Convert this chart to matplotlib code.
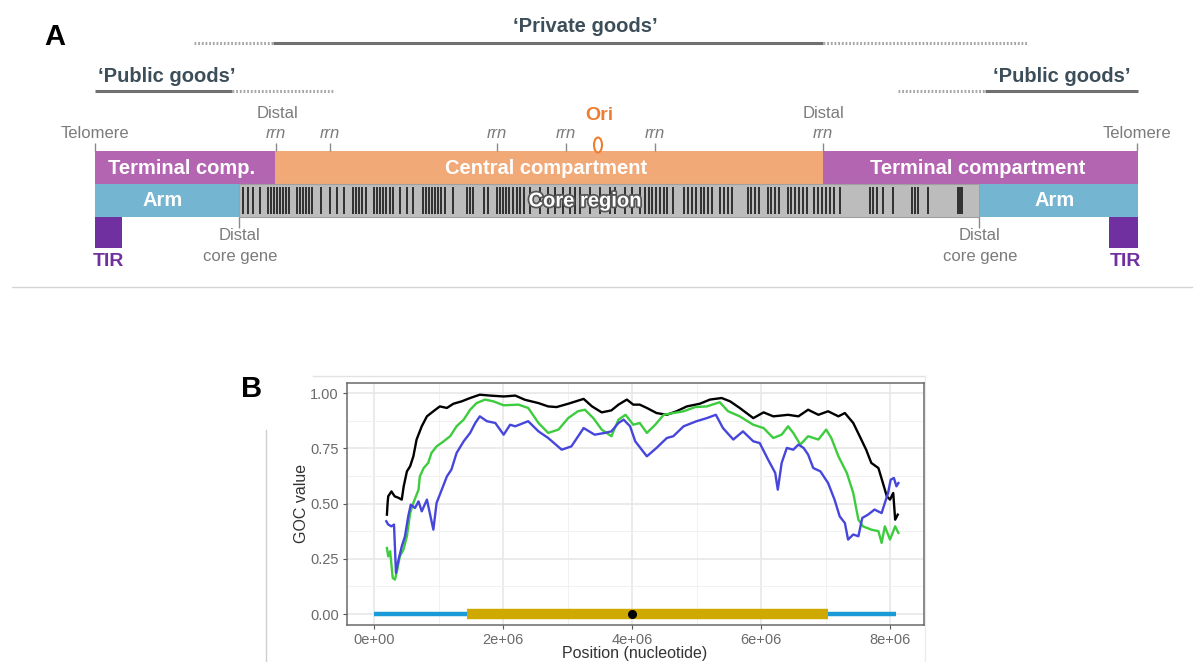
import matplotlib.pyplot as plt
from matplotlib.patches import Rectangle, Ellipse
import matplotlib.patheffects as pe
import numpy as np

plt.rcParams['font.family'] = ['Liberation Sans', 'DejaVu Sans']

# ---- panel A: schematic (diagram units = pixels along the chromosome drawing)
compartments = ['Terminal comp.', 'Central compartment', 'Terminal compartment']
comp_start = [95, 275, 823]
comp_end = [275, 823, 1138]
comp_colors = ['#b365b2', '#f2a978', '#b365b2']

regions = ['Arm', 'Core region', 'Arm']
region_start = [95, 239, 979]
region_end = [239, 979, 1138]
region_colors = ['#74b5d1', '#bcbcbc', '#74b5d1']

tir_start = [95, 1109]
tir_end = [122, 1138]

rrn_pos = [276, 330, 497, 566, 655, 823]
ori_pos = 598
telomere_pos = [95, 1137]
distal_core_pos = [239, 979]

core_genes = [243, 248, 253, 260, 268, 271, 274, 277, 280, 283, 286, 289, 297, 300,
              303, 306, 309, 312, 321, 330, 337, 344, 353, 356, 359, 362, 366, 374,
              377, 380, 383, 386, 390, 393, 400, 407, 413, 423, 426, 429, 432, 435,
              438, 441, 445, 453, 467, 470, 473, 484, 488, 497, 500, 503, 506, 509,
              513, 517, 520, 524, 530, 540, 548, 555, 563, 570, 575, 580, 590, 600,
              610, 615, 625, 632, 640, 645, 649, 652, 656, 660, 664, 667, 673, 684,
              688, 692, 696, 701, 704, 708, 712, 720, 724, 728, 732, 748, 751, 755,
              759, 768, 771, 775, 779, 788, 791, 795, 799, 803, 807, 814, 818, 822,
              826, 830, 834, 840, 870, 873, 877, 883, 893, 912, 915, 918, 928, 958,
              960, 962]

# goods spans: (dotted start, solid start, solid end, dotted end)
private_span = [194, 273, 823, 1027]
public_left_span = [95, 95, 232, 333]
public_right_span = [898, 985, 1138, 1138]

# ---- panel B: GOC values (position in Mb)
black_pos = [0.20, 0.21, 0.22, 0.27, 0.32, 0.38, 0.43, 0.46, 0.51, 0.56, 0.61, 0.66, 0.74,
             0.82, 0.92, 1.02, 1.13, 1.23, 1.36, 1.49, 1.64, 1.80, 2.01, 2.19, 2.34, 2.55,
             2.70, 2.83, 3.01, 3.25, 3.38, 3.53, 3.68, 3.79, 3.92, 4.02, 4.12, 4.23, 4.38,
             4.54, 4.69, 4.85, 5.05, 5.21, 5.39, 5.52, 5.67, 5.88, 6.04, 6.19, 6.29, 6.42,
             6.58, 6.73, 6.89, 7.04, 7.20, 7.30, 7.43, 7.53, 7.63, 7.71, 7.82, 7.89, 7.95,
             8.00, 8.05, 8.08, 8.12]
black_goc = [0.45, 0.50, 0.533, 0.555, 0.533, 0.526, 0.518, 0.578, 0.646, 0.669, 0.714, 0.790,
             0.85, 0.895, 0.918, 0.94, 0.933, 0.952, 0.963, 0.978, 0.993, 0.989, 0.985, 0.989,
             0.97, 0.955, 0.94, 0.937, 0.952, 0.974, 0.94, 0.913, 0.922, 0.948, 0.971, 0.948,
             0.948, 0.933, 0.91, 0.902, 0.918, 0.94, 0.952, 0.971, 0.978, 0.963, 0.933, 0.887,
             0.913, 0.895, 0.898, 0.902, 0.895, 0.925, 0.902, 0.918, 0.895, 0.910, 0.865,
             0.805, 0.744, 0.684, 0.661, 0.593, 0.533, 0.518, 0.548, 0.427, 0.45]

green_pos = [0.20, 0.22, 0.25, 0.29, 0.325, 0.36, 0.40, 0.455, 0.51, 0.56, 0.61, 0.69, 0.71,
             0.77, 0.84, 0.89, 0.97, 1.08, 1.18, 1.28, 1.39, 1.49, 1.59, 1.72, 1.85, 2.01,
             2.24, 2.39, 2.55, 2.70, 2.86, 3.01, 3.16, 3.27, 3.40, 3.53, 3.68, 3.79, 3.90,
             4.02, 4.12, 4.23, 4.36, 4.49, 4.64, 4.80, 4.98, 5.16, 5.36, 5.49, 5.67, 5.88,
             6.04, 6.19, 6.32, 6.42, 6.50, 6.61, 6.73, 6.89, 7.01, 7.09, 7.20, 7.33, 7.43,
             7.51, 7.58, 7.71, 7.82, 7.87, 7.92, 8.00, 8.08, 8.13]
green_goc = [0.299, 0.261, 0.284, 0.163, 0.156, 0.201, 0.261, 0.291, 0.352, 0.457, 0.503,
             0.563, 0.623, 0.661, 0.684, 0.729, 0.759, 0.782, 0.805, 0.85, 0.88, 0.925, 0.955,
             0.971, 0.963, 0.945, 0.948, 0.933, 0.865, 0.82, 0.835, 0.887, 0.918, 0.925,
             0.887, 0.835, 0.805, 0.88, 0.902, 0.857, 0.865, 0.82, 0.857, 0.902, 0.91, 0.918,
             0.937, 0.94, 0.959, 0.918, 0.895, 0.857, 0.842, 0.797, 0.812, 0.85, 0.82, 0.767,
             0.805, 0.790, 0.835, 0.797, 0.714, 0.639, 0.548, 0.427, 0.397, 0.382, 0.375,
             0.322, 0.397, 0.337, 0.397, 0.367]

blue_pos = [0.19, 0.22, 0.27, 0.31, 0.34, 0.38, 0.43, 0.48, 0.53, 0.57, 0.635, 0.69, 0.74,
            0.82, 0.87, 0.92, 0.97, 1.05, 1.13, 1.20, 1.28, 1.39, 1.49, 1.57, 1.64, 1.75,
            1.88, 2.01, 2.11, 2.19, 2.39, 2.55, 2.70, 2.91, 3.06, 3.25, 3.42, 3.58, 3.68,
            3.79, 3.87, 3.97, 4.05, 4.23, 4.38, 4.54, 4.64, 4.80, 5.00, 5.16, 5.30, 5.41,
            5.57, 5.72, 5.88, 5.98, 6.11, 6.22, 6.26, 6.32, 6.40, 6.50, 6.58, 6.66, 6.73,
            6.81, 6.92, 7.04, 7.14, 7.22, 7.30, 7.35, 7.43, 7.51, 7.57, 7.66, 7.76, 7.87,
            7.92, 7.97, 8.01, 8.06, 8.10, 8.13]
blue_goc = [0.42, 0.405, 0.397, 0.405, 0.186, 0.246, 0.306, 0.352, 0.442, 0.495, 0.48, 0.51,
            0.465, 0.518, 0.45, 0.382, 0.503, 0.563, 0.623, 0.654, 0.729, 0.782, 0.82, 0.865,
            0.895, 0.873, 0.865, 0.812, 0.857, 0.85, 0.873, 0.827, 0.797, 0.744, 0.759, 0.842,
            0.812, 0.82, 0.827, 0.865, 0.88, 0.85, 0.782, 0.714, 0.752, 0.797, 0.805, 0.85,
            0.873, 0.887, 0.902, 0.842, 0.790, 0.827, 0.782, 0.774, 0.699, 0.639, 0.563,
            0.684, 0.752, 0.744, 0.767, 0.752, 0.722, 0.661, 0.646, 0.593, 0.518, 0.442,
            0.412, 0.337, 0.36, 0.352, 0.435, 0.45, 0.473, 0.457, 0.503, 0.548, 0.608,
            0.616, 0.578, 0.593]

# chromosome track under the curves (Mb)
track_arm_left = [0.0, 1.44]
track_central = [1.44, 7.04]
track_arm_right = [7.04, 8.10]
ori_mb = 4.0

x_ticks = [0, 2e6, 4e6, 6e6, 8e6]
x_labels = ['0e+00', '2e+06', '4e+06', '6e+06', '8e+06']
y_ticks = [0.0, 0.25, 0.5, 0.75, 1.0]
y_labels = ['0.00', '0.25', '0.50', '0.75', '1.00']

W, H = 1204, 662
fig = plt.figure(figsize=(W / 100, H / 100), dpi=100)

# full-figure axes in pixel units for panel A and decorations
ax_a = fig.add_axes([0, 0, 1, 1])
ax_a.set_xlim(0, W)
ax_a.set_ylim(H, 0)
ax_a.axis('off')

gray_txt = '#7b7b7b'
dark_goods = '#3c4e59'

# goods lines
def goods_line(span, y):
    ds, ss, se, de = span
    if ss > ds:
        ax_a.plot([ds, ss], [y, y], color='#a8a8a8', lw=2.2, ls=(0, (0.6, 0.6)))
    ax_a.plot([ss, se], [y, y], color='#707070', lw=2.2, solid_capstyle='butt')
    if de > se:
        ax_a.plot([se, de], [y, y], color='#a8a8a8', lw=2.2, ls=(0, (0.6, 0.6)))

goods_line(private_span, 43)
goods_line(public_left_span, 91)
goods_line(public_right_span, 91)
ax_a.text(585, 26, '\u2018Private goods\u2019', fontsize=14.5, fontweight='bold',
          color=dark_goods, ha='center', va='center')
ax_a.text(167, 76, '\u2018Public goods\u2019', fontsize=14.5, fontweight='bold',
          color=dark_goods, ha='center', va='center')
ax_a.text(1062, 76, '\u2018Public goods\u2019', fontsize=14.5, fontweight='bold',
          color=dark_goods, ha='center', va='center')

# compartment bars
for name, s, e, c in zip(compartments, comp_start, comp_end, comp_colors):
    ax_a.add_patch(Rectangle((s, 151), e - s, 33, facecolor=c, edgecolor='none'))
    ax_a.text((s + e) / 2 - 3, 168, name, fontsize=14.5, fontweight='bold',
              color='white', ha='center', va='center')

for name, s, e, c in zip(regions, region_start, region_end, region_colors):
    ax_a.add_patch(Rectangle((s, 184), e - s, 33, facecolor=c, edgecolor='none'))

ax_a.vlines(core_genes, 187, 214, color='black', lw=1.3, alpha=0.8)
ax_a.add_patch(Rectangle((region_start[1], 184), region_end[1] - region_start[1], 33,
                         facecolor='none', edgecolor='#a0a0a0', lw=0.8))
for name, s, e in zip(regions, region_start, region_end):
    t = ax_a.text((s + e) / 2 - (24 if name == 'Core region' else 4), 201, name,
                  fontsize=14.5, fontweight='bold', color='white', ha='center',
                  va='center', zorder=5)
    if name == 'Core region':
        t.set_path_effects([pe.withStroke(linewidth=2.5, foreground='#555555')])

for s, e in zip(tir_start, tir_end):
    ax_a.add_patch(Rectangle((s, 217), e - s, 31, facecolor='#7030a0', edgecolor='none'))
ax_a.text(108, 261, 'TIR', fontsize=14, fontweight='bold', color='#7030a0',
          ha='center', va='center')
ax_a.text(1125, 261, 'TIR', fontsize=14, fontweight='bold', color='#7030a0',
          ha='center', va='center')

# rrn marks
ax_a.vlines(rrn_pos, 143, 151, color='#8a8a8a', lw=1)
for x in rrn_pos:
    ax_a.text(x, 134, 'rrn', fontsize=12, style='italic', color=gray_txt,
              ha='center', va='center')
for x in [rrn_pos[0], rrn_pos[-1]]:
    ax_a.text(x + 1, 113, 'Distal', fontsize=12, color=gray_txt, ha='center', va='center')

# telomeres
ax_a.vlines(telomere_pos, 143, 151, color='#8a8a8a', lw=1)
for x in telomere_pos:
    ax_a.text(x, 134, 'Telomere', fontsize=12, color=gray_txt, ha='center', va='center')

# origin
ax_a.add_patch(Ellipse((ori_pos, 145), 8, 15, facecolor='white', edgecolor='#ee7d31', lw=1.5))
ax_a.text(ori_pos + 1, 115, 'Ori', fontsize=14, fontweight='bold', color='#ee7d31',
          ha='center', va='center')

# distal core genes
ax_a.vlines(distal_core_pos, 217, 228, color='#8a8a8a', lw=1)
for x in distal_core_pos:
    ax_a.text(x + 1, 235, 'Distal', fontsize=12, color=gray_txt, ha='center', va='center')
    ax_a.text(x + 1, 257, 'core gene', fontsize=12, color=gray_txt, ha='center', va='center')

# panel letters and frame lines
ax_a.text(55, 37, 'A', fontsize=21, fontweight='bold', color='black', ha='center', va='center')
ax_a.text(252, 389, 'B', fontsize=21, fontweight='bold', color='black', ha='center', va='center')
ax_a.plot([12, 1192], [287, 287], color='#d4d4d4', lw=1)
ax_a.plot([313, 925], [376, 376], color='#e2e2e2', lw=1)
ax_a.plot([925, 925], [376, 662], color='#ececec', lw=1)
ax_a.plot([266, 266], [430, 662], color='#cfcfcf', lw=1)

# ---- panel B
left, right, top, bottom = 347, 924, 383, 625
ax = fig.add_axes([left / W, 1 - bottom / H, (right - left) / W, (bottom - top) / H])
ax.set_facecolor('white')

mb = 1e6
ax.plot(np.array(black_pos) * mb, black_goc, color='black', lw=1.7)
ax.plot(np.array(green_pos) * mb, green_goc, color='#3dcc3d', lw=1.7)
ax.plot(np.array(blue_pos) * mb, blue_goc, color='#4646dc', lw=1.7)

ax.plot(np.array(track_arm_left) * mb, [0, 0], color='#1a9ad6', lw=3.2, solid_capstyle='butt')
ax.plot(np.array(track_arm_right) * mb, [0, 0], color='#1a9ad6', lw=3.2, solid_capstyle='butt')
ax.plot(np.array(track_central) * mb, [0, 0], color='#cfa800', lw=7.5, solid_capstyle='butt')
ax.plot([ori_mb * mb], [0], 'o', color='black', ms=5.5)

ax.set_xlim(-0.419e6, 8.527e6)
ax.set_ylim(-0.0498, 1.046)
ax.set_xticks(x_ticks)
ax.set_xticklabels(x_labels)
ax.set_yticks(y_ticks)
ax.set_yticklabels(y_labels)
ax.set_xticks([1e6, 3e6, 5e6, 7e6], minor=True)
ax.set_yticks([0.125, 0.375, 0.625, 0.875], minor=True)
ax.grid(which='major', color='#e6e6e6', lw=1.1)
ax.grid(which='minor', color='#f1f1f1', lw=0.7)
ax.set_axisbelow(True)
ax.tick_params(which='major', length=3, width=0.8, color='#555555',
               labelsize=10.5, labelcolor='#6a6a6a', pad=3)
ax.tick_params(which='minor', length=0)
for sp in ax.spines.values():
    sp.set_color('#6a6a6a')
    sp.set_linewidth(1.1)

fig.text(302 / W, 1 - 503 / H, 'GOC value', rotation=90, fontsize=11.5,
         color='#333333', ha='center', va='center')
fig.text(635 / W, 1 - 661 / H, 'Position (nucleotide)', fontsize=11.5,
         color='#333333', ha='center', va='bottom')

fig.savefig('out.png', dpi=100)
